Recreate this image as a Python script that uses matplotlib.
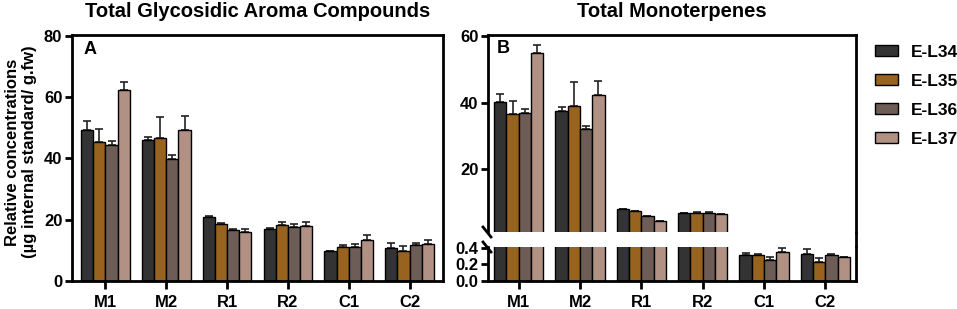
import numpy as np
import matplotlib
matplotlib.use("Agg")
import matplotlib.pyplot as plt
from matplotlib.patches import Patch

plt.rcParams['font.family'] = ['Liberation Sans', 'DejaVu Sans']
plt.rcParams['font.weight'] = 'bold'

# --- данные ---
categories = ["M1", "M2", "R1", "R2", "C1", "C2"]
lines = ["E-L34", "E-L35", "E-L36", "E-L37"]
colors = ["#333333", "#98621f", "#6e5d56", "#b09184"]

# панель A: суммарные гликозидные ароматические соединения
glyco_mean = {
    "E-L34": [49.3, 46.0, 20.9, 17.0, 9.7, 10.7],
    "E-L35": [45.5, 46.6, 18.6, 18.3, 11.2, 9.8],
    "E-L36": [44.4, 39.8, 16.8, 17.5, 11.2, 11.8],
    "E-L37": [62.5, 49.3, 15.9, 18.0, 13.4, 12.0],
}
glyco_err = {
    "E-L34": [2.8, 1.1, 0.2, 0.2, 0.1, 1.7],
    "E-L35": [4.1, 6.8, 0.3, 0.9, 0.6, 1.6],
    "E-L36": [1.2, 1.2, 0.2, 1.0, 0.8, 0.6],
    "E-L37": [2.6, 4.7, 1.1, 1.2, 1.5, 1.5],
}

# панель B: суммарные монотерпены
mono_mean = {
    "E-L34": [40.2, 37.5, 8.0, 6.8, 0.315, 0.33],
    "E-L35": [36.7, 38.9, 7.4, 6.8, 0.32, 0.23],
    "E-L36": [36.8, 32.0, 5.9, 6.9, 0.26, 0.315],
    "E-L37": [54.9, 42.4, 4.4, 6.5, 0.35, 0.29],
}
mono_err = {
    "E-L34": [2.4, 1.1, 0.2, 0.2, 0.02, 0.06],
    "E-L35": [3.9, 7.4, 0.2, 0.3, 0.005, 0.05],
    "E-L36": [1.4, 1.0, 0.2, 0.3, 0.03, 0.01],
    "E-L37": [2.3, 4.1, 0.2, 0.2, 0.05, 0.005],
}

W, H = 957, 309
SPINE_LW = 2.0
BW = 0.2
TICK_FS = 12

def fx(px): return px / W
def fy(px): return 1 - px / H

def draw_bars(ax, means, errs):
    x = np.arange(len(categories))
    for i, (name, c) in enumerate(zip(lines, colors)):
        xi = x + (i - 1.5) * BW
        ax.bar(xi, means[name], BW, color=c, edgecolor="black", lw=1.0, zorder=2)
        ax.errorbar(xi, means[name], yerr=[np.zeros(len(xi)), errs[name]], fmt="none",
                    ecolor="#222222", elinewidth=1.2, capsize=3.2, capthick=1.2, zorder=1)

def style(ax):
    for s in ax.spines.values():
        s.set_linewidth(SPINE_LW)
    ax.tick_params(axis="both", width=SPINE_LW, length=5, labelsize=TICK_FS, pad=2)
    for lab in ax.get_xticklabels() + ax.get_yticklabels():
        lab.set_fontweight("bold")

fig = plt.figure(figsize=(W / 100, H / 100), dpi=100)

# ---------- Панель A ----------
axA = fig.add_axes([fx(72), fy(281), fx(443 - 72), (281 - 35) / H])
draw_bars(axA, glyco_mean, glyco_err)
axA.set_xlim(-0.55, 5.55)
axA.set_ylim(0, 80.3)
axA.set_yticks([0, 20, 40, 60, 80])
axA.set_xticks(range(len(categories)))
axA.set_xticklabels(categories)
style(axA)
axA.tick_params(axis="x", length=6, pad=4)
axA.set_title("Total Glycosidic Aroma Compounds", fontsize=14.5, fontweight="bold", pad=13)
axA.text(0.03, 0.975, "A", transform=axA.transAxes, fontsize=13, fontweight="bold",
         va="top", ha="left")
fig.text(fx(21), fy(152), "Relative concentrations\n(µg internal standard/ g.fw)",
         rotation=90, ha="center", va="center", fontsize=12, fontweight="bold",
         linespacing=1.1)

# ---------- Панель B (разрыв оси) ----------
bl, br = 488, 856
axT = fig.add_axes([fx(bl), fy(232), fx(br - bl), (232 - 35) / H])
axB = fig.add_axes([fx(bl), fy(281), fx(br - bl), (281 - 247) / H])
for ax in (axT, axB):
    draw_bars(ax, mono_mean, mono_err)
    ax.set_xlim(-0.5, 5.5)
axT.set_ylim(1.2, 60.3)
axT.set_yticks([20, 40, 60])
axB.set_ylim(0, 0.412)
axB.set_yticks([0.0, 0.2, 0.4])
axB.set_yticklabels(["0.0", "0.2", "0.4"])
axT.set_xticks([])
axB.set_xticks(range(len(categories)))
axB.set_xticklabels(categories)
axT.spines["bottom"].set_visible(False)
axB.spines["top"].set_visible(False)
style(axT); style(axB)
axB.tick_params(axis="x", length=6, pad=4)
axT.set_title("Total Monoterpenes", fontsize=14.5, fontweight="bold", pad=13)
axT.text(0.025, 0.975, "B", transform=axT.transAxes, fontsize=13, fontweight="bold",
         va="top", ha="left")

# правая рамка без разрыва
fig.add_artist(plt.Line2D([fx(br), fx(br)], [fy(247) + 0.002, fy(232) - 0.002],
                          color="black", lw=SPINE_LW))
# значки разрыва на левой оси
for yc in (232, 247):
    fig.add_artist(plt.Line2D([fx(bl - 5), fx(bl + 3)], [fy(yc - 5), fy(yc + 5)],
                              color="black", lw=SPINE_LW))

# ---------- Легенда ----------
handles = [Patch(facecolor=c, edgecolor="black", lw=1.0, label=n) for n, c in zip(lines, colors)]
leg = fig.legend(handles=handles, loc="upper left", bbox_to_anchor=(fx(868), fy(38)),
                 frameon=False, fontsize=12.5, handlelength=1.3, handleheight=0.6,
                 handletextpad=0.75, labelspacing=0.8, borderaxespad=0)
for t in leg.get_texts():
    t.set_fontweight("bold")

fig.savefig("out.png", dpi=100)
